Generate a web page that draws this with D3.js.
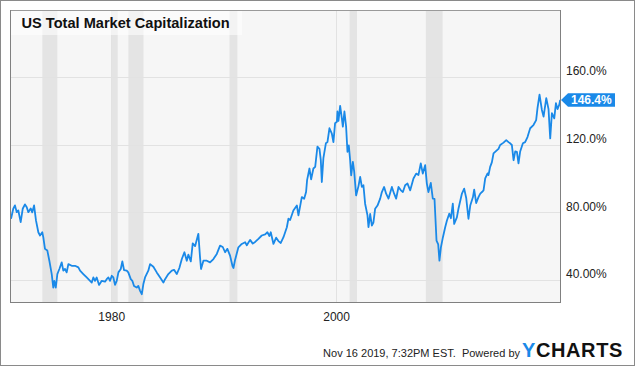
<!DOCTYPE html>
<html><head><meta charset="utf-8">
<script src="https://cdn.jsdelivr.net/npm/d3@7"></script>
<style>
body{margin:0;background:#fff;}
svg{display:block;font-family:"Liberation Sans",Arial,Helvetica,sans-serif;}
</style></head>
<body><svg id="c" width="635" height="366"></svg>
<script>
const title = "US Total Market Capitalization";
const years = [1971.09,1971.29,1971.44,1971.6,1971.74,1971.95,1972.13,1972.33,1972.49,1972.63,1972.84,1972.98,1973.14,1973.31,1973.52,1973.67,1973.87,1973.96,1974.11,1974.32,1974.5,1974.71,1974.85,1974.94,1975.07,1975.21,1975.39,1975.6,1975.74,1975.89,1976.04,1976.19,1976.49,1976.78,1977.08,1977.23,1977.52,1977.82,1978.12,1978.27,1978.41,1978.56,1978.71,1978.92,1979.16,1979.45,1979.6,1979.75,1979.9,1980.05,1980.19,1980.34,1980.49,1980.64,1980.85,1980.99,1981.14,1981.38,1981.52,1981.74,1981.88,1982.03,1982.27,1982.41,1982.57,1982.72,1982.86,1983.01,1983.3,1983.46,1983.75,1984.05,1984.35,1984.64,1984.79,1985.08,1985.39,1985.59,1985.83,1986.06,1986.28,1986.51,1986.72,1986.86,1987.08,1987.25,1987.46,1987.75,1987.9,1987.99,1988.2,1988.5,1988.79,1989.09,1989.39,1989.68,1989.92,1990.13,1990.33,1990.57,1990.78,1990.87,1991.02,1991.31,1991.61,1991.91,1992.06,1992.35,1992.59,1992.8,1993.09,1993.39,1993.69,1993.89,1994.07,1994.19,1994.43,1994.67,1994.87,1995.08,1995.32,1995.62,1995.76,1995.91,1996.2,1996.51,1996.65,1996.95,1997.16,1997.33,1997.42,1997.63,1997.78,1997.98,1998.14,1998.34,1998.52,1998.64,1998.73,1998.87,1999.09,1999.23,1999.41,1999.62,1999.76,1999.91,2000.07,2000.12,2000.21,2000.36,2000.51,2000.6,2000.74,2000.89,2001.01,2001.13,2001.25,2001.34,2001.49,2001.61,2001.78,2001.99,2002.14,2002.29,2002.43,2002.58,2002.79,2002.88,2003.03,2003.18,2003.32,2003.47,2003.68,2003.92,2004.07,2004.27,2004.45,2004.66,2004.96,2005.16,2005.34,2005.55,2005.76,2005.94,2006.14,2006.35,2006.59,2006.88,2007.12,2007.32,2007.53,2007.71,2007.92,2008.07,2008.21,2008.42,2008.6,2008.75,2008.93,2009.08,2009.19,2009.32,2009.5,2009.7,2009.85,2010.06,2010.21,2010.38,2010.5,2010.74,2010.88,2011.19,2011.39,2011.57,2011.77,2011.93,2012.17,2012.28,2012.46,2012.66,2012.82,2012.97,2013.11,2013.26,2013.47,2013.55,2013.7,2013.85,2014.0,2014.24,2014.44,2014.59,2014.89,2015.13,2015.33,2015.48,2015.63,2015.78,2015.93,2016.08,2016.22,2016.37,2016.61,2016.81,2017.02,2017.26,2017.55,2017.79,2017.91,2018.09,2018.3,2018.45,2018.69,2018.89,2019.04,2019.19,2019.4,2019.55,2019.69,2019.84,2019.93];
const values = [76.2,82.1,84.1,80.1,81.1,74.2,82.1,84.7,83,80.1,82.3,80,84.1,75.2,68.2,66.3,68.2,65.3,58.4,57.4,51.4,43.5,35.5,39.5,35.5,43.5,46.5,50.4,45.5,46.5,44.5,49.4,48.4,48.4,47.5,45.5,43.5,41.5,39.5,38.5,41.5,39.5,41.5,37.1,39.5,39,40.5,41.5,39.5,42.5,41.5,37.1,39.5,44.5,46.5,51.0,45.9,45.5,44.5,40.5,39.5,36.5,35.5,36.5,33.6,31.6,37.6,41.5,45.5,49.4,47.8,44.5,41.5,38.5,40.5,43.5,45.5,46,43.5,47.1,52.4,56.4,51.4,55,51,61.7,60,67.3,53.4,46.5,51.4,51.4,50.4,52.4,55.4,60.3,59.5,56.4,58.4,54.4,48.4,47.1,52,59.3,61.3,62.3,60.5,63.7,61.5,62.5,64.3,66.3,67,68.2,66,68.2,61.3,65,63,61.9,65.3,71.2,76.2,75.5,81.1,84.1,78.2,89.0,88,92.0,99,105.9,99.5,105.9,106.9,118.8,117.5,110.8,97.9,112,120.8,121.5,129.7,126.5,121.5,132.7,133.5,139.6,134,142.9,135.5,130.6,139.6,130.6,115.8,119.5,110.8,101.9,109.8,104,90.0,95.5,100.9,95,96,85.1,78.2,71.2,79,72.2,74,82.1,84,88.1,92.0,95.0,91,88.1,95.0,91,88.1,95.0,93,92,96.0,97,93.0,100,102.9,102,108.9,102.9,107.9,97,92.0,97.4,88.1,88,63.3,61,51.4,59.3,65.3,71.2,75,79.2,76.5,85.1,73.2,77,82.1,91.1,94.0,88.5,76.2,84,89.0,93.4,85.5,89,91.1,92,93,100,103,102,106.9,109.5,114.8,116.3,117.5,119.8,121.2,122.7,121.5,120.8,119.8,110.8,116,115.8,108.9,116,120.8,121.5,124.5,129.7,131.6,134.5,141.6,149.5,140.5,136.6,147.5,141,123.7,138.6,135.5,144.5,141,143.5,146.4];
const recStart = [1973.875,1980.0,1981.53,1990.52,2001.2,2007.98];
const recEnd   = [1975.21,1980.58,1982.87,1991.22,2001.86,2009.47];
const xTicks = [1980, 2000];
const yTicks = [40, 80, 120, 160];
const yTickLabels = ["40.00%","80.00%","120.0%","160.0%"];
const lastLabel = "146.4%";
const footerText = "Nov 16 2019, 7:32PM EST.  Powered by";

const svg = d3.select("#c");
const L = 10, R = 561, T = 10, B = 303;
const x = d3.scaleLinear().domain([1971, 2020]).range([L, R]);
const y = d3.scaleLinear().domain([26.4, 199.6]).range([B, T]);
const blue = "#1a89e8";

svg.append("rect").attr("x",0.5).attr("y",0.5).attr("width",634).attr("height",365)
  .attr("fill","#fff").attr("stroke","#8a8a8a");

svg.append("rect").attr("x",L).attr("y",T).attr("width",R-L).attr("height",B-T).attr("fill","#f6f6f6");

svg.append("g").selectAll("rect").data(recStart).join("rect")
  .attr("x",(d)=>x(d)).attr("y",T)
  .attr("width",(d,i)=>x(recEnd[i])-x(d)).attr("height",B-T)
  .attr("fill","#e4e4e4");

svg.append("g").selectAll("line").data(yTicks).join("line")
  .attr("x1",L).attr("x2",R).attr("y1",d=>Math.round(y(d))+0.5).attr("y2",d=>Math.round(y(d))+0.5)
  .attr("stroke","#e2e2e2");
svg.append("g").selectAll("line").data(xTicks).join("line")
  .attr("y1",T).attr("y2",B).attr("x1",d=>Math.round(x(d))+0.5).attr("x2",d=>Math.round(x(d))+0.5)
  .attr("stroke","#e2e2e2");

svg.append("clipPath").attr("id","clip").append("rect").attr("x",L).attr("y",T).attr("width",R-L).attr("height",B-T);

const data = years.map((d,i)=>[d, values[i]]);
svg.append("path").datum(data).attr("clip-path","url(#clip)")
  .attr("fill","none").attr("stroke",blue).attr("stroke-width",1.8).attr("stroke-linejoin","round")
  .attr("d", d3.line().x(d=>x(d[0])).y(d=>y(d[1])));

svg.append("rect").attr("x",L).attr("y",T).attr("width",232).attr("height",25).attr("fill","#fff").attr("opacity",0.55);
svg.append("text").attr("x",21.5).attr("y",27.5).attr("font-size","14.6px").attr("font-weight","bold").attr("fill","#111").text(title);

svg.append("rect").attr("x",L+0.5).attr("y",T+0.5).attr("width",R-L-1).attr("height",B-T-1)
  .attr("fill","none").attr("stroke","#9a9a9a");
svg.append("line").attr("x1",L+0.5).attr("x2",L+0.5).attr("y1",T).attr("y2",B).attr("stroke","#808080");
svg.append("line").attr("x1",L).attr("x2",R).attr("y1",B-0.5).attr("y2",B-0.5).attr("stroke","#808080");
svg.append("line").attr("x1",R-0.5).attr("x2",R-0.5).attr("y1",T).attr("y2",B).attr("stroke","#808080");

const xAxis = d3.axisBottom(x).tickValues(xTicks).tickFormat(d3.format("d")).tickSize(0).tickPadding(0);
const gx = svg.append("g").attr("transform",`translate(0,${B})`).call(xAxis);
gx.select(".domain").remove();
gx.selectAll("text").attr("font-size","12px").attr("fill","#222").attr("font-family","Liberation Sans, Arial, sans-serif")
  .attr("dy",null).attr("y",18);

const yAxis = d3.axisRight(y).tickValues(yTicks).tickFormat((d,i)=>yTickLabels[i]).tickSize(0).tickPadding(0);
const gy = svg.append("g").attr("transform",`translate(${R+5},0)`).call(yAxis);
gy.select(".domain").remove();
gy.selectAll("text").attr("font-size","12px").attr("fill","#222").attr("font-family","Liberation Sans, Arial, sans-serif")
  .attr("dy",null).attr("y",-2);

const ly = y(values[values.length-1]);
svg.append("path").attr("fill",blue)
  .attr("d",`M${R},${ly} L${R+7},${ly-6.7} L${R+54},${ly-6.7} L${R+54},${ly+6.7} L${R+7},${ly+6.7} Z`);
svg.append("text").attr("x",R+10).attr("y",ly+4.3).attr("font-size","12px").attr("font-weight","bold")
  .attr("fill","#fff").text(lastLabel);

svg.append("text").attr("x",520).attr("y",357).attr("text-anchor","end").attr("font-size","11px")
  .attr("fill","#222").style("white-space","pre").text(footerText);
const logo = svg.append("text").attr("x",522).attr("y",357).attr("font-size","20px").attr("font-weight","bold").attr("letter-spacing","0.6px");
logo.append("tspan").attr("fill",blue).text("Y");
logo.append("tspan").attr("fill","#111").text("CHARTS");
</script></body></html>
